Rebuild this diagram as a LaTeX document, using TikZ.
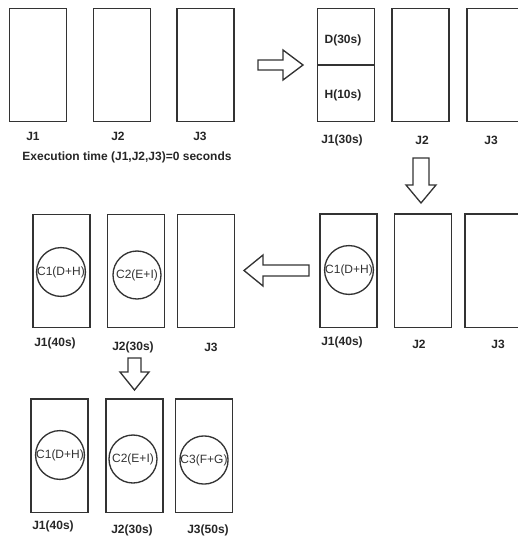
\documentclass[tikz,border=0pt]{standalone}
\usepackage{fontspec}
\setmainfont{Liberation Sans}
\begin{document}
\begin{tikzpicture}[x=0.75pt,y=-0.75pt,
  jobbox/.style={draw=black!80,line width=1pt,rectangle,inner sep=0pt,outer sep=0pt,minimum width=42.75pt,minimum height=85pt},
  taskcirc/.style={draw=black!80,line width=1pt,circle,inner sep=0pt,minimum size=36pt,font=\fontsize{9}{10}\selectfont,text=black!80},
  lbl/.style={font=\bfseries\fontsize{9}{10}\selectfont,text=black!85,inner sep=0pt},
  blockarrow/.style={draw=black!80,line width=1pt,fill=white,line join=miter}]
\useasboundingbox (0,0) rectangle (518,540);
% Row 1 left
\node[jobbox] (a1) at (38,65) {};
\node[jobbox] (a2) at (122,65) {};
\node[jobbox] (a3) at (205.5,65) {};
\node[lbl] (la1) at (33,136) {J1};
\node[lbl] (la2) at (118,136) {J2};
\node[lbl] (la3) at (200,136) {J3};
\node[lbl] (exec) at (127,157) {Execution time (J1,J2,J3)=0 seconds};
% Row 1 right
\node[jobbox] (b1) at (346,65) {};
\node[jobbox] (b2) at (420.5,65) {};
\node[jobbox] (b3) at (495.5,65) {};
\draw[draw=black!80,line width=1pt] (b1.west) -- (b1.east);
\node[lbl] (bd) at (343,40) {D(30s)};
\node[lbl] (bh) at (343,95) {H(10s)};
\node[lbl] (lb1) at (342,140) {J1(30s)};
\node[lbl] (lb2) at (422,140) {J2};
\node[lbl] (lb3) at (491,140) {J3};
% Row 2 right
\node[jobbox] (c1) at (348.5,270.5) {};
\node[jobbox] (c2) at (423,270.5) {};
\node[jobbox] (c3) at (493.5,270.5) {};
\node[taskcirc] (cc1) at (349,270) {C1(D+H)};
\node[lbl] (lc1) at (342,342) {J1(40s)};
\node[lbl] (lc2) at (419,344) {J2};
\node[lbl] (lc3) at (498,344) {J3};
% Row 2 left
\node[jobbox] (d1) at (61.5,271) {};
\node[jobbox] (d2) at (136,271) {};
\node[jobbox] (d3) at (206,271) {};
\node[taskcirc] (dc1) at (61,272) {C1(D+H)};
\node[taskcirc] (dc2) at (137,275) {C2(E+I)};
\node[lbl] (ld1) at (55,343) {J1(40s)};
\node[lbl] (ld2) at (133,347) {J2(30s)};
\node[lbl] (ld3) at (211,347) {J3};
% Row 3
\node[jobbox] (e1) at (59.5,455.5) {};
\node[jobbox] (e2) at (134.5,455.5) {};
\node[jobbox] (e3) at (204,455.5) {};
\node[taskcirc] (ec1) at (60,455) {C1(D+H)};
\node[taskcirc] (ec2) at (133,459) {C2(E+I)};
\node[taskcirc] (ec3) at (204,460) {C3(F+G)};
\node[lbl] (le1) at (53,526) {J1(40s)};
\node[lbl] (le2) at (132,530) {J2(30s)};
\node[lbl] (le3) at (208,530) {J3(50s)};
% Block arrows
\draw[blockarrow] (258,60) -- (283,60) -- (283,50) -- (303,65) -- (283,80) -- (283,70) -- (258,70) -- cycle;
\draw[blockarrow] (413,158) -- (429,158) -- (429,185) -- (436,185) -- (421,203) -- (406,185) -- (413,185) -- cycle;
\draw[blockarrow] (309,265) -- (263,265) -- (263,255) -- (244,270.5) -- (263,286) -- (263,276) -- (309,276) -- cycle;
\draw[blockarrow] (128,358) -- (141,358) -- (141,372) -- (149,372) -- (134.5,390) -- (120,372) -- (128,372) -- cycle;
\end{tikzpicture}
\end{document}
